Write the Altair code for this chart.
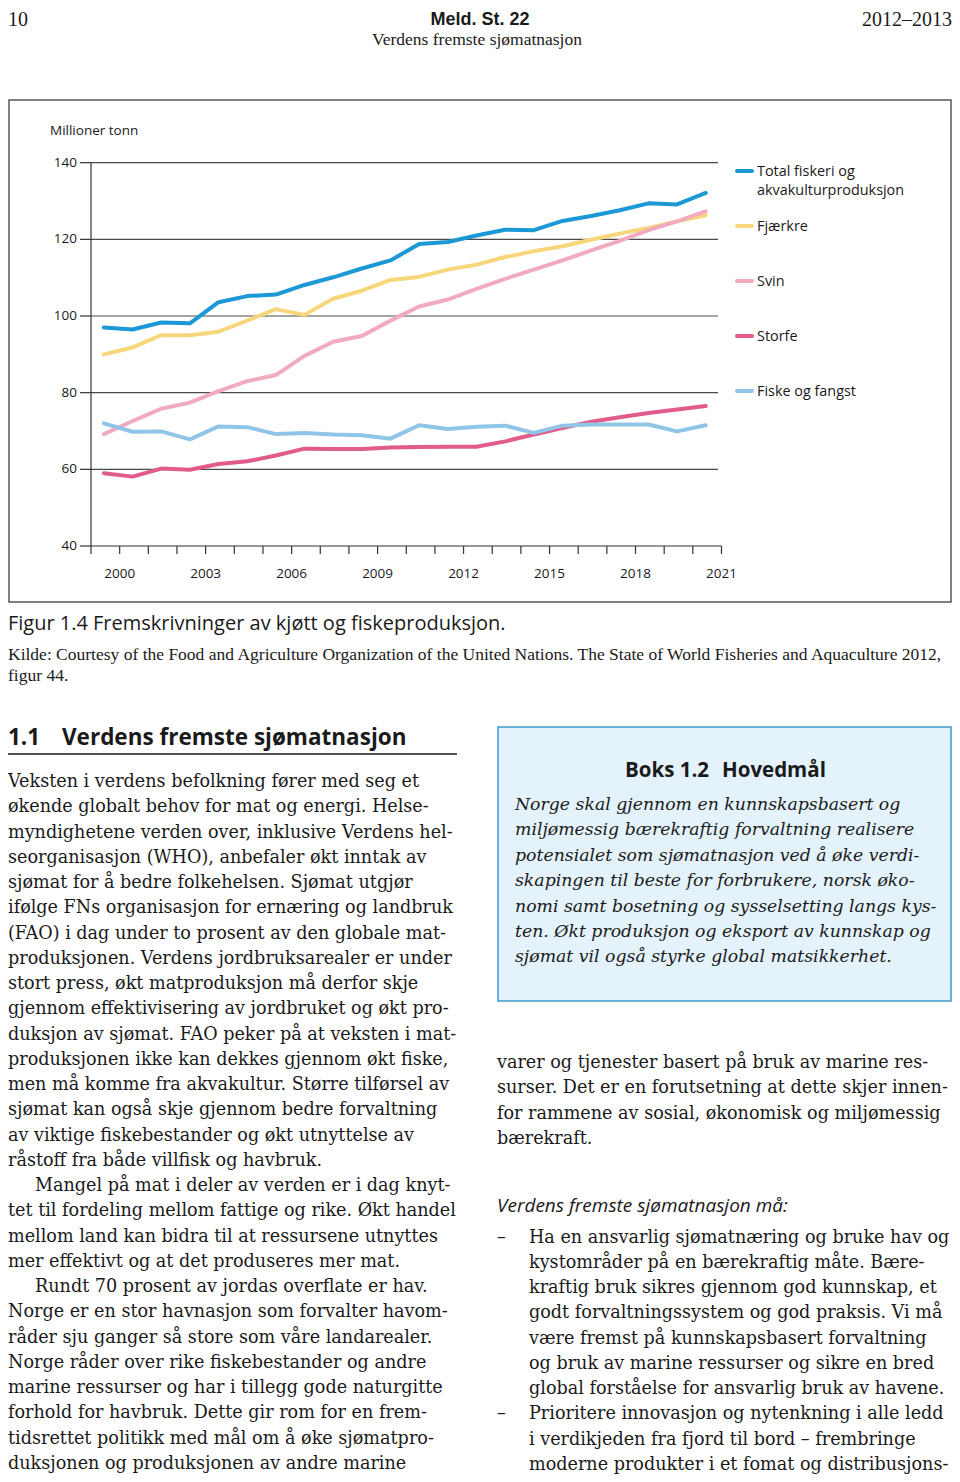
import altair as alt
import pandas as pd

# ---------------- data ----------------
years = list(range(2000, 2022))
total_fiskeri = [97.0, 96.5, 98.3, 98.1, 103.6, 105.2, 105.6, 108.1, 110.1, 112.4, 114.5,
                 118.8, 119.3, 121.0, 122.5, 122.4, 124.8, 126.1, 127.6, 129.4, 129.1, 132.1]
fjaerkre = [90.0, 91.8, 95.0, 95.0, 95.9, 98.8, 101.8, 100.3, 104.5, 106.6, 109.4,
            110.2, 112.1, 113.4, 115.4, 116.9, 118.2, 119.9, 121.5, 123.0, 124.7, 126.3]
svin = [69.2, 72.6, 75.8, 77.4, 80.4, 83.0, 84.6, 89.6, 93.3, 94.8, 98.8,
        102.5, 104.3, 107.1, 109.7, 112.1, 114.5, 117.1, 119.6, 122.4, 124.7, 127.3]
storfe = [59.0, 58.1, 60.2, 59.9, 61.4, 62.1, 63.6, 65.4, 65.3, 65.3, 65.7,
          65.8, 65.9, 65.9, 67.3, 69.1, 70.8, 72.4, 73.6, 74.7, 75.6, 76.5]
fiske_fangst = [72.0, 69.8, 69.9, 67.8, 71.2, 71.0, 69.2, 69.5, 69.1, 68.9, 68.0,
                71.5, 70.5, 71.1, 71.4, 69.5, 71.4, 71.7, 71.7, 71.7, 69.9, 71.5]

series_names = ["Total fiskeri og akvakulturproduksjon", "Fjærkre", "Svin", "Storfe", "Fiske og fangst"]
legend_labels = [["Total fiskeri og", "akvakulturproduksjon"], ["Fjærkre"], ["Svin"], ["Storfe"], ["Fiske og fangst"]]
series_values = [total_fiskeri, fjaerkre, svin, storfe, fiske_fangst]
colors = ["#1b98d5", "#f8d77c", "#f2abbe", "#e15b8b", "#90c5e8"]

y_ticks = [40, 60, 80, 100, 120, 140]
grid_values = [60, 80, 100, 120, 140]
x_tick_years = list(range(1999, 2022))
x_label_years = [2000, 2003, 2006, 2009, 2012, 2015, 2018, 2021]

header_left = "10"
header_center = "Meld. St. 22"
header_right = "2012–2013"
header_sub = "Verdens fremste sjømatnasjon"
y_title = "Millioner tonn"
caption_num = "Figur 1.4"
caption_text = "Fremskrivninger av kjøtt og fiskeproduksjon."
source_lines = ["Kilde: Courtesy of the Food and Agriculture Organization of the United Nations. The State of World Fisheries and Aquaculture 2012,",
                "figur 44."]
section_num = "1.1"
section_title = "Verdens fremste sjømatnasjon"

left_body = [
    "Veksten i verdens befolkning fører med seg et",
    "økende globalt behov for mat og energi. Helse-",
    "myndighetene verden over, inklusive Verdens hel-",
    "seorganisasjon (WHO), anbefaler økt inntak av",
    "sjømat for å bedre folkehelsen. Sjømat utgjør",
    "ifølge FNs organisasjon for ernæring og landbruk",
    "(FAO) i dag under to prosent av den globale mat-",
    "produksjonen. Verdens jordbruksarealer er under",
    "stort press, økt matproduksjon må derfor skje",
    "gjennom effektivisering av jordbruket og økt pro-",
    "duksjon av sjømat. FAO peker på at veksten i mat-",
    "produksjonen ikke kan dekkes gjennom økt fiske,",
    "men må komme fra akvakultur. Større tilførsel av",
    "sjømat kan også skje gjennom bedre forvaltning",
    "av viktige fiskebestander og økt utnyttelse av",
    "råstoff fra både villfisk og havbruk.",
    "Mangel på mat i deler av verden er i dag knyt-",
    "tet til fordeling mellom fattige og rike. Økt handel",
    "mellom land kan bidra til at ressursene utnyttes",
    "mer effektivt og at det produseres mer mat.",
    "Rundt 70 prosent av jordas overflate er hav.",
    "Norge er en stor havnasjon som forvalter havom-",
    "råder sju ganger så store som våre landarealer.",
    "Norge råder over rike fiskebestander og andre",
    "marine ressurser og har i tillegg gode naturgitte",
    "forhold for havbruk. Dette gir rom for en frem-",
    "tidsrettet politikk med mål om å øke sjømatpro-",
    "duksjonen og produksjonen av andre marine",
]
indented_lines = [16, 20]

box_title_num = "Boks 1.2"
box_title_text = "Hovedmål"
box_lines = [
    "Norge skal gjennom en kunnskapsbasert og",
    "miljømessig bærekraftig forvaltning realisere",
    "potensialet som sjømatnasjon ved å øke verdi-",
    "skapingen til beste for forbrukere, norsk øko-",
    "nomi samt bosetning og sysselsetting langs kys-",
    "ten. Økt produksjon og eksport av kunnskap og",
    "sjømat vil også styrke global matsikkerhet.",
]
right_body = [
    "varer og tjenester basert på bruk av marine res-",
    "surser. Det er en forutsetning at dette skjer innen-",
    "for rammene av sosial, økonomisk og miljømessig",
    "bærekraft.",
]
list_heading = "Verdens fremste sjømatnasjon må:"
bullets = [
    ["Ha en ansvarlig sjømatnæring og bruke hav og",
     "kystområder på en bærekraftig måte. Bære-",
     "kraftig bruk sikres gjennom god kunnskap, et",
     "godt forvaltningssystem og god praksis. Vi må",
     "være fremst på kunnskapsbasert forvaltning",
     "og bruk av marine ressurser og sikre en bred",
     "global forståelse for ansvarlig bruk av havene."],
    ["Prioritere innovasjon og nytenkning i alle ledd",
     "i verdikjeden fra fjord til bord – frembringe",
     "moderne produkter i et fomat og distribusjons-"],
]

# ---------------- layout ----------------
M = 8
W, H = 944, 1466
SERIF = "Liberation Serif"
BODYFONT = "DejaVu Serif"
SANS = "Open Sans"
INK = "#1a1a1a"
LH = 25.25
BODY = 17.6

xscale = alt.Scale(domain=[1999, 2021], range=[91 - M, 721.5 - M])
yscale = alt.Scale(domain=[40, 140], range=[546 - M, 162.7 - M])

one = pd.DataFrame({"k": [0]})
layers = []


def text(lines, x, y, size, font=BODYFONT, align="left", weight="normal", style="normal",
         lh=LH, color=INK, baseline="alphabetic"):
    t = lines if len(lines) > 1 else lines[0]
    return alt.Chart(one).mark_text(
        text=t, align=align, baseline=baseline, font=font, fontSize=size,
        fontWeight=weight, fontStyle=style, lineHeight=lh, color=color
    ).encode(x=alt.value(x), y=alt.value(y))


def box(x, x2, y, y2, stroke, fill="transparent", sw=1.5):
    return alt.Chart(one).mark_rect(fill=fill, stroke=stroke, strokeWidth=sw).encode(
        x=alt.value(x), x2=alt.value(x2), y=alt.value(y), y2=alt.value(y2))


# header
layers.append(text([header_left], 0, 18, 20, font=SERIF))
layers.append(text([header_center], 472, 17, 18, font="Liberation Sans", align="center", weight="bold"))
layers.append(text([header_right], 944, 18, 20, font=SERIF, align="right"))
layers.append(text([header_sub], 469, 37, 17.5, font=SERIF, align="center"))

# chart frame
layers.append(box(1, 943, 92, 594, "#555555"))

# gridlines
grid_df = pd.DataFrame({"v": grid_values})
layers.append(alt.Chart(grid_df).mark_rule(color="#4a4a4a", strokeWidth=1.2).encode(
    y=alt.Y("v:Q", scale=yscale, axis=None),
    x=alt.value(91 - M), x2=alt.value(718 - M)))

# axes lines
yax = pd.DataFrame({"y0": [40], "y1": [140]})
layers.append(alt.Chart(yax).mark_rule(color="#333333", strokeWidth=1.2).encode(
    y=alt.Y("y0:Q", scale=yscale, axis=None), y2="y1:Q", x=alt.value(91 - M)))
xax = pd.DataFrame({"x0": [1999], "x1": [2021], "y0": [40]})
layers.append(alt.Chart(xax).mark_rule(color="#333333", strokeWidth=1.2).encode(
    x=alt.X("x0:Q", scale=xscale, axis=None), x2="x1:Q",
    y=alt.Y("y0:Q", scale=yscale, axis=None)))

# y ticks + labels
yt = pd.DataFrame({"v": y_ticks})
layers.append(alt.Chart(yt).mark_rule(color="#333333", strokeWidth=1.2).encode(
    y=alt.Y("v:Q", scale=yscale, axis=None), x=alt.value(80 - M), x2=alt.value(91 - M)))
layers.append(alt.Chart(yt).mark_text(align="right", baseline="middle", font=SANS,
                                      fontSize=13.5, color=INK).encode(
    y=alt.Y("v:Q", scale=yscale, axis=None), x=alt.value(77 - M), text="v:Q"))

# x ticks + labels
xt = pd.DataFrame({"yr": x_tick_years})
layers.append(alt.Chart(xt).mark_rule(color="#333333", strokeWidth=1.2).encode(
    x=alt.X("yr:Q", scale=xscale, axis=None), y=alt.value(546 - M), y2=alt.value(554 - M)))
xl = pd.DataFrame({"yr": x_label_years})
layers.append(alt.Chart(xl).mark_text(align="center", baseline="middle", font=SANS,
                                      fontSize=13.5, color=INK).encode(
    x=alt.X("yr:Q", scale=xscale, axis=None), y=alt.value(574 - M), text="yr:N"))

layers.append(text([y_title], 50 - M, 131 - M, 13.5, font=SANS, baseline="middle"))

# series lines
for name, vals, col in zip(series_names, series_values, colors):
    d = pd.DataFrame({"year": years, "value": vals})
    d["pos"] = d["year"] - 0.55
    layers.append(alt.Chart(d).mark_line(color=col, strokeWidth=4, strokeCap="round",
                                         strokeJoin="round").encode(
        x=alt.X("pos:Q", scale=xscale, axis=None),
        y=alt.Y("value:Q", scale=yscale, axis=None)))

# legend
leg_y = [171, 226, 281, 336, 391]
for labels, col, yy in zip(legend_labels, colors, leg_y):
    layers.append(alt.Chart(one).mark_rule(color=col, strokeWidth=4, strokeCap="round").encode(
        x=alt.value(737 - M), x2=alt.value(752 - M), y=alt.value(yy - M)))
    layers.append(text(labels, 757 - M, yy - M + 5, 14.4, font=SANS, lh=19))

# caption & source
layers.append(text([caption_num], 0, 622, 20, font=SANS))
layers.append(text([caption_text], 85, 622, 20, font=SANS))
layers.append(text(source_lines, 0, 652, 17.5, font=SERIF, lh=21))

# section heading
layers.append(text([section_num], 0, 737, 22.5, font=SANS, weight="bold"))
layers.append(text([section_title], 54, 737, 22.5, font=SANS, weight="bold"))
layers.append(alt.Chart(one).mark_rule(color=INK, strokeWidth=1.5).encode(
    x=alt.value(0), x2=alt.value(449), y=alt.value(746)))

# left body text in blocks (indented paragraph starts)
y0 = 779
start = 0
cuts = indented_lines + [len(left_body)]
for c in cuts:
    if c > start:
        layers.append(text(left_body[start:c], 0, y0 + start * LH, BODY))
    if c < len(left_body):
        layers.append(text([left_body[c]], 27, y0 + c * LH, BODY))
        start = c + 1

# fact box
layers.append(box(490, 943, 719, 993, "#3d9ad1", fill="#e4f2fb"))
layers.append(text([box_title_num], 617, 769, 20.5, font=SANS, weight="bold"))
layers.append(text([box_title_text], 714, 769, 20.5, font=SANS, weight="bold"))
layers.append(text(box_lines, 507, 802, 17.3, style="italic", lh=25.4))

# right column
layers.append(text(right_body, 489, 1060, BODY))
layers.append(text([list_heading], 489, 1204, 19, font=SANS, style="italic"))
by = 1234.5
idx = 0
for b in bullets:
    layers.append(text(["–"], 489, by + idx * LH, BODY))
    layers.append(text(b, 521, by + idx * LH, BODY))
    idx += len(b)

chart = alt.layer(*layers).properties(
    width=W, height=H, padding=0, autosize="none", background="white"
).configure_view(stroke=None)

chart.save("out.html", embed_options={"renderer": "svg", "actions": False})
